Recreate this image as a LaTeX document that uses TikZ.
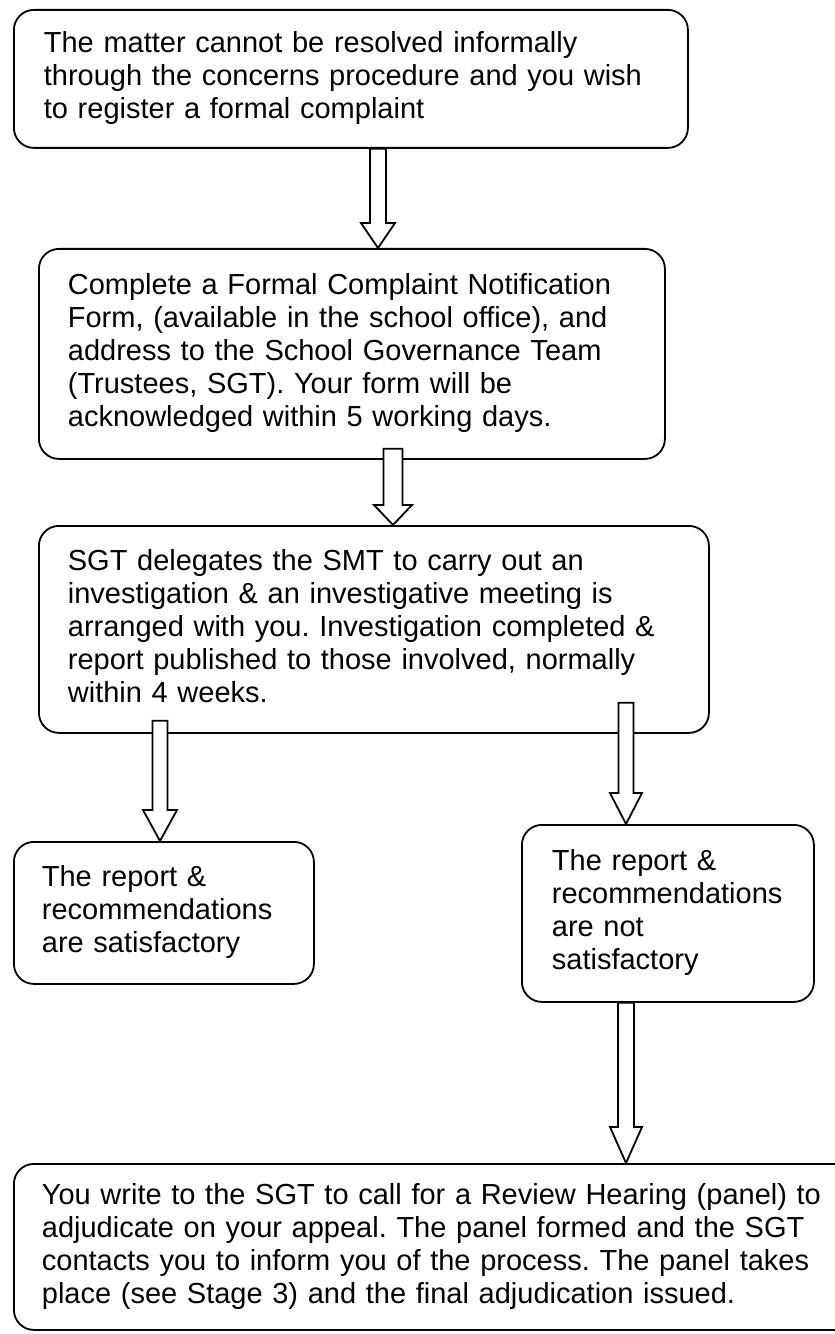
\documentclass[tikz,border=0pt]{standalone}
\usepackage{fontspec}
\setmainfont{Liberation Sans}
\usetikzlibrary{calc}
\frenchspacing
\tikzset{
  box/.style={draw, line width=1.8bp, rounded corners=20bp, anchor=north west,
    align=left, inner ysep=0pt, font=\fontsize{29bp}{33bp}\selectfont\frenchspacing},
  barrow/.style={draw, fill=white, line width=1.8bp, line join=miter}
}
% #1 source anchor, #2 tip point, #3 overlap above source, #4 half shaft, #5 half head, #6 head length
\newcommand\blockarrow[6]{%
  \draw[barrow] let \p1=(#1), \p2=(#2) in
    (\x2-#4bp,\y1+#3bp) -- (\x2-#4bp,\y2+#6bp) -- (\x2-#5bp,\y2+#6bp) -- (\x2,\y2)
    -- (\x2+#5bp,\y2+#6bp) -- (\x2+#4bp,\y2+#6bp) -- (\x2+#4bp,\y1+#3bp) -- cycle;}
\begin{document}
\begin{tikzpicture}[x=1bp,y=-1bp]
\useasboundingbox (0,0) rectangle (834,1334);
\node[box, minimum width=674bp, minimum height=138bp, inner xsep=30bp, text width=614bp] (b1) at (13,9)
  {\begin{tabular}{@{}l@{}}The matter cannot be resolved informally\\through the concerns procedure and you wish\\to register a formal complaint\end{tabular}};
\node[box, minimum width=626bp, minimum height=210bp, inner xsep=29bp, text width=568bp] (b2) at (38,248)
  {\begin{tabular}{@{}l@{}}Complete a Formal Complaint Notification\\Form, (available in the school office), and\\address to the School Governance Team\\(Trustees, SGT). Your form will be\\acknowledged within 5 working days.\end{tabular}};
\node[box, minimum width=670bp, minimum height=207bp, inner xsep=29bp, text width=612bp] (b3) at (38,525)
  {\begin{tabular}{@{}l@{}}SGT delegates the SMT to carry out an\\investigation \& an investigative meeting is\\arranged with you. Investigation completed \&\\report published to those involved, normally\\within 4 weeks.\end{tabular}};
\node[box, minimum width=300bp, minimum height=142bp, inner xsep=28bp, text width=244bp] (b4) at (13,841)
  {\begin{tabular}{@{}l@{}}The report \&\\recommendations\\are satisfactory\end{tabular}};
\node[box, minimum width=292bp, minimum height=177bp, inner xsep=30bp, text width=232bp] (b5) at (521,824)
  {\begin{tabular}{@{}l@{}}The report \&\\recommendations\\are not\\satisfactory\end{tabular}};
\node[box, minimum width=850bp, minimum height=166bp, inner xsep=28bp, text width=794bp] (b6) at (13,1163)
  {\begin{tabular}{@{}l@{}}You write to the SGT to call for a Review Hearing (panel) to\\adjudicate on your appeal. The panel formed and the SGT\\contacts you to inform you of the process. The panel takes\\place (see Stage 3) and the final adjudication issued.\end{tabular}};
\blockarrow{b1.south}{$(b2.north west)+(340,0)$}{0}{8}{17}{25}
\blockarrow{b2.south}{$(b3.north west)+(355,0)$}{11}{9.5}{19}{20}
\blockarrow{b3.south}{$(b4.north west)+(147,0)$}{13}{7.5}{17}{31}
\blockarrow{b3.south}{$(b5.north west)+(105,0)$}{31}{7.5}{16}{31}
\blockarrow{b5.south}{$(b6.north west)+(613,0)$}{0}{8}{16}{36}
\end{tikzpicture}
\end{document}
